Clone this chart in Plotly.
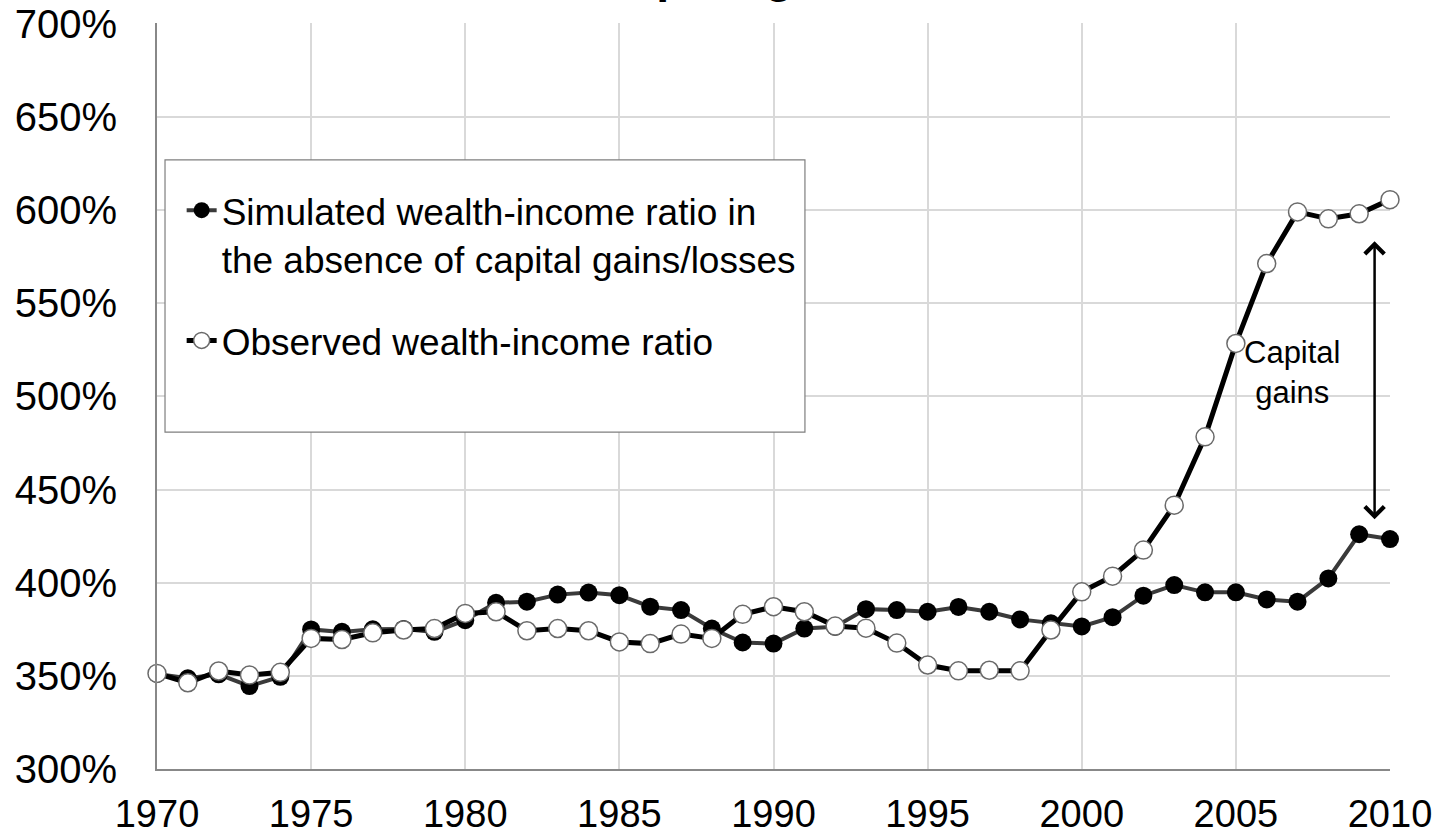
import plotly.graph_objects as go

years = list(range(1970, 2011))

simulated = [351, 348.7, 350.8, 344.5, 349.5, 374.9, 373.6, 375.0, 375.2, 373.6,
             379.9, 389.2, 389.8, 393.6, 394.7, 393.3, 387.1, 385.3, 375.4, 367.9,
             367.3, 375.4, 376.3, 385.8, 385.3, 384.4, 387.0, 384.4, 380.3, 378.2,
             376.5, 381.5, 393.0, 398.7, 394.8, 394.8, 391.0, 389.8, 402.3, 426.0,
             423.4]

observed = [351.3, 346.3, 352.6, 350.4, 351.9, 370.1, 369.5, 373.1, 374.6, 375.4,
            383.5, 384.4, 374.2, 375.4, 374.2, 368.2, 367.3, 372.4, 370.1, 383.0,
            387.1, 384.4, 376.7, 375.6, 367.6, 355.8, 352.7, 353.0, 352.7, 374.6,
            395.1, 403.5, 417.5, 441.6, 478.3, 528.4, 571.3, 599.0, 595.3, 598.0,
            605.6]

name_sim = "Simulated wealth-income ratio in<br>the absence of capital gains/losses"
name_obs = "Observed wealth-income ratio"
title_text = "The role of capital gains: France, 1970-2010"
gap_label = "Capital<br>gains"
gap_year = 2009.5
gap_low, gap_high = 434, 584

FONT = "Arial, 'Liberation Sans', sans-serif"

fig = go.Figure()
fig.add_trace(go.Scatter(
    x=years, y=simulated, mode="lines+markers", name=name_sim,
    legendgroup="sim",
    line=dict(color="#3a3a3a", width=4),
    marker=dict(symbol="circle", size=18, color="black", line=dict(width=0)),
    cliponaxis=False,
))
fig.add_trace(go.Scatter(
    x=years, y=observed, mode="lines+markers", name=name_obs,
    legendgroup="obs",
    line=dict(color="black", width=5),
    marker=dict(symbol="circle", size=18, color="white",
                line=dict(width=1.5, color="#6a6a6a")),
    cliponaxis=False,
))

fig.update_layout(
    width=1442, height=838,
    margin=dict(l=157, r=52, t=23, b=69, autoexpand=False),
    paper_bgcolor="white", plot_bgcolor="white",
    font=dict(family=FONT, color="black"),
    showlegend=True,
    legend=dict(
        x=0.02, y=0.79, xanchor="left", yanchor="top",
        bgcolor="rgba(0,0,0,0)", borderwidth=0,
        font=dict(size=37, family=FONT, color="black"),
        valign="top", tracegroupgap=31,
    ),
    xaxis=dict(
        range=[1970, 2010], dtick=5, tick0=1970, automargin=False,
        showgrid=True, gridcolor="#d9d9d9", gridwidth=2,
        showline=True, linecolor="#888888", linewidth=2,
        ticks="outside", ticklen=10, tickcolor="rgba(0,0,0,0)",
        tickfont=dict(size=38, family=FONT, color="black"),
        ticklabeloverflow="allow", zeroline=False,
    ),
    yaxis=dict(
        range=[300, 700.4], dtick=50, tick0=300, ticksuffix="%", automargin=False,
        showgrid=True, gridcolor="#d9d9d9", gridwidth=2,
        showline=True, linecolor="#888888", linewidth=2,
        ticks="outside", ticklen=30, tickcolor="rgba(0,0,0,0)",
        tickfont=dict(size=40, family=FONT, color="black"),
        ticklabeloverflow="allow", zeroline=False,
    ),
    shapes=[dict(
        type="rect", xref="paper", yref="paper",
        x0=0.0065, x1=0.5255, y0=0.4517, y1=0.8164,
        fillcolor="white", line=dict(color="#7f7f7f", width=1.2),
        layer="above",
    )],
    annotations=[
        dict(text=title_text, xref="paper", yref="paper", x=0.158, y=1,
             xanchor="left", yanchor="bottom", yshift=19, showarrow=False,
             font=dict(size=46.5, family=FONT, color="black", weight="bold")),
        dict(text="", x=gap_year, y=gap_low, ax=gap_year, ay=gap_high,
             xref="x", yref="y", axref="x", ayref="y",
             showarrow=True, arrowside="end+start", arrowhead=4, startarrowhead=4,
             arrowsize=1.5, startarrowsize=1.5, arrowwidth=2.5, arrowcolor="black"),
        dict(text=gap_label, x=2006.85, y=513, xref="x", yref="y",
             showarrow=False, font=dict(size=31, family=FONT, color="black")),
    ],
)

fig.write_html(
    "out.html",
    config={"displayModeBar": False},
    post_script="document.body.style.margin='0';document.body.style.overflow='hidden';",
)
